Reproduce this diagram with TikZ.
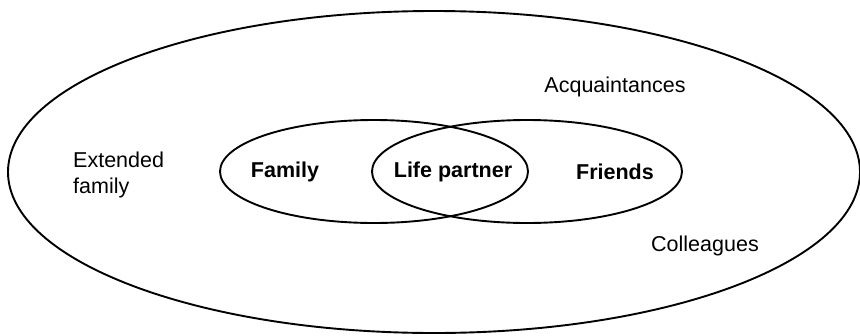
\documentclass[tikz,border=0pt]{standalone}
\usepackage{fontspec}
\setmainfont{Liberation Sans}
\begin{document}
\begin{tikzpicture}[x=1pt,y=-1pt,
  ring/.style={draw=black,line width=1.9pt},
  plain/.style={font=\fontsize{21.5}{26}\selectfont,inner sep=0pt},
  strong/.style={font=\fontsize{21.5}{26}\selectfont\bfseries,inner sep=0pt}]
  \useasboundingbox (0,0) rectangle (860,335);
  \fill[white] (0,0) rectangle (860,335);
  % outer circle of acquaintances
  \draw[ring] (434,172) ellipse [x radius=426pt, y radius=161pt];
  % overlapping family / friends sets
  \draw[ring] (374,171.5) ellipse [x radius=154pt, y radius=51.5pt];
  \draw[ring] (527,171.5) ellipse [x radius=155pt, y radius=51.5pt];
  % labels
  \node[strong] (family) at (285,172) {Family};
  \node[strong] (partner) at (453,172) {Life partner};
  \node[strong] (friends) at (615,172) {Friends};
  \node[plain] (acq) at (615,87) {Acquaintances};
  \node[plain] (coll) at (705,246) {Colleagues};
  \node[plain,align=left,anchor=west] (ext) at (73,175) {Extended\\family};
\end{tikzpicture}
\end{document}
